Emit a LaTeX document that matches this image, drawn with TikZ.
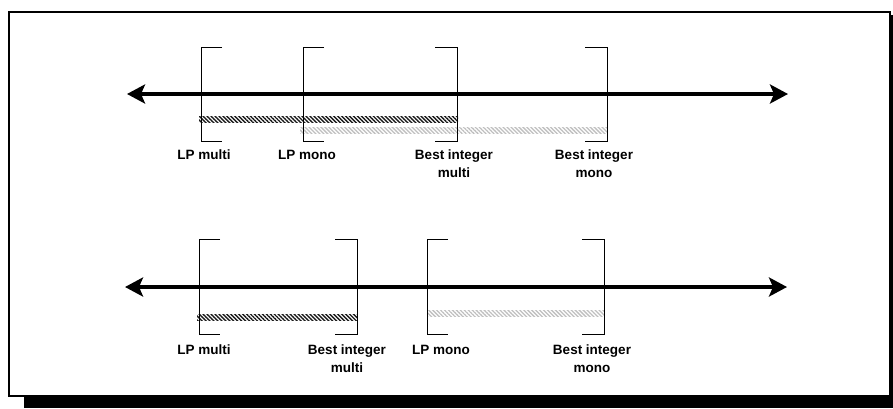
\documentclass[tikz,border=0pt]{standalone}
\usepackage{fontspec}
\setmainfont{Liberation Sans}
\usetikzlibrary{arrows.meta,patterns.meta}
\tikzset{
  frame/.style={line width=2pt, fill=white},
  axis/.style={line width=4pt, {Stealth[length=18pt,width=19pt,inset=4pt]}-{Stealth[length=18pt,width=19pt,inset=4pt]}},
  bracket/.style={line width=1pt},
  lpbar/.style={pattern={Lines[angle=-45,distance=2.8pt,line width=1.4pt]}, pattern color=black!90},
  intbar/.style={pattern={Lines[angle=-45,distance=2.8pt,line width=1.3pt]}, pattern color=black!25},
  tag/.style={font=\fontsize{13.5}{18}\selectfont\bfseries, align=center, anchor=north, inner sep=0pt}
}
% opening and closing interval brackets: x, top y, bottom y
\newcommand\openbr[3]{\draw[bracket] (#1+21,#2) -- (#1,#2) -- (#1,#3) -- (#1+21,#3);}
\newcommand\closebr[3]{\draw[bracket] (#1-22,#2) -- (#1,#2) -- (#1,#3) -- (#1-22,#3);}
\begin{document}
\begin{tikzpicture}[x=1pt,y=-1pt]
\useasboundingbox (0,0) rectangle (893,408);
% drop shadow and frame
\fill[black] (24,397) rectangle (893,408);
\fill[black] (890,15) rectangle (893,408);
\draw[frame] (9,12) rectangle (890,396);

% ---------- upper number line ----------
\coordinate (a1) at (127,94);
\coordinate (b1) at (788,94);
\fill[lpbar] (199,116) rectangle (458,122);
\fill[intbar] (300,127) rectangle (607,133);
\openbr{201}{47}{141}
\openbr{303}{47}{141}
\closebr{457}{47}{141}
\closebr{607}{47}{141}
\draw[axis] (a1) -- (b1);
\node[tag] (lpm1) at (204,150) {LP multi};
\node[tag] (lpo1) at (307,150) {LP mono};
\node[tag] (bim1) at (454,150) {Best integer\\multi};
\node[tag] (bio1) at (594,150) {Best integer\\mono};

% ---------- lower number line ----------
\coordinate (a2) at (125,287);
\coordinate (b2) at (787,287);
\fill[lpbar] (197,314) rectangle (357,320);
\fill[intbar] (427,310) rectangle (604,316);
\openbr{199}{239}{334}
\closebr{357}{239}{334}
\openbr{427}{239}{334}
\closebr{604}{239}{334}
\draw[axis] (a2) -- (b2);
\node[tag] (lpm2) at (204,345) {LP multi};
\node[tag] (bim2) at (347,345) {Best integer\\multi};
\node[tag] (lpo2) at (441,345) {LP mono};
\node[tag] (bio2) at (592,345) {Best integer\\mono};
\end{tikzpicture}
\end{document}
